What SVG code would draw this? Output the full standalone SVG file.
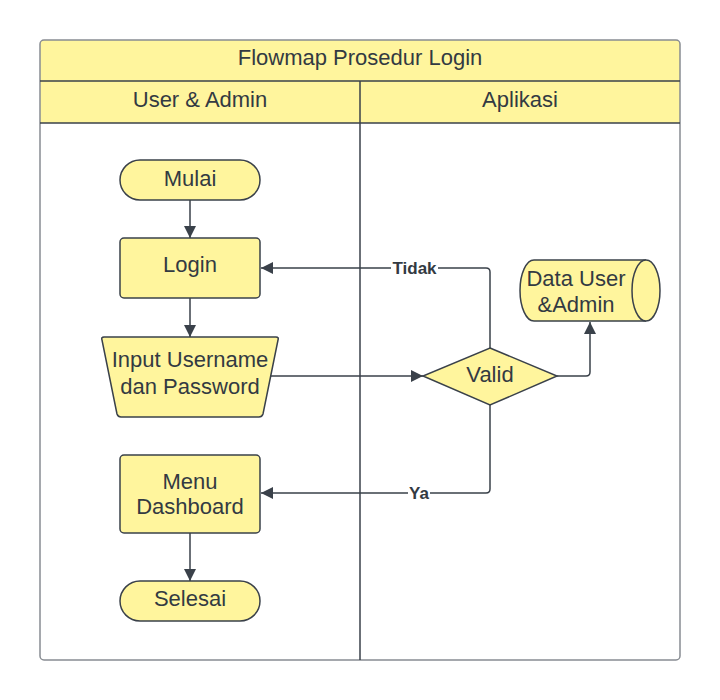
<svg xmlns="http://www.w3.org/2000/svg" width="720" height="700" viewBox="0 0 720 700">
<defs>
<marker id="arr" viewBox="0 0 12 12" refX="12" refY="6" markerWidth="12" markerHeight="12" markerUnits="userSpaceOnUse" orient="auto">
<path d="M0,0 L12,6 L0,12 Z" fill="#3a414a"/>
</marker>
</defs>
<style>
.shape{fill:#fff59d;stroke:#3a414a;stroke-width:1.5}
.t{font-family:"Liberation Sans",Arial,sans-serif;font-size:22px;fill:#333a42;text-anchor:middle}
.lbl{font-family:"Liberation Sans",Arial,sans-serif;font-size:17px;font-weight:bold;fill:#333a42;text-anchor:middle}
.c{fill:none;stroke:#3a414a;stroke-width:1.5}
</style>
<rect width="720" height="700" fill="#fff"/>
<g id="pool">
<path d="M40,81 V44 Q40,40 44,40 H676 Q680,40 680,44 V81 Z" fill="#fff59d"/>
<rect x="40" y="81" width="640" height="42" fill="#fff59d"/>
<rect x="40" y="40" width="640" height="620" rx="4" fill="none" stroke="#888c92" stroke-width="1.5"/>
<line x1="40" y1="81" x2="680" y2="81" stroke="#3a414a" stroke-width="1.5"/>
<line x1="40" y1="123" x2="680" y2="123" stroke="#3a414a" stroke-width="1.5"/>
<line x1="360" y1="81" x2="360" y2="660" stroke="#3a414a" stroke-width="1.5"/>
<text class="t" x="360" y="65">Flowmap Prosedur Login</text>
<text class="t" x="200" y="107">User &amp; Admin</text>
<text class="t" x="520" y="107">Aplikasi</text>
</g>
<g id="connectors">
<line class="c" x1="190" y1="200" x2="190" y2="238" marker-end="url(#arr)"/>
<line class="c" x1="190" y1="298" x2="190" y2="337" marker-end="url(#arr)"/>
<line class="c" x1="270" y1="376" x2="423" y2="376" marker-end="url(#arr)"/>
<path class="c" d="M490,348 V272 Q490,268 486,268 H261" marker-end="url(#arr)"/>
<path class="c" d="M490,405 V489 Q490,493 486,493 H261" marker-end="url(#arr)"/>
<path class="c" d="M557,376 H586 Q590,376 590,372 V322" marker-end="url(#arr)"/>
<line class="c" x1="190" y1="533" x2="190" y2="581" marker-end="url(#arr)"/>
<rect x="391" y="259" width="47" height="18" fill="#fff"/>
<text class="lbl" x="414.5" y="274">Tidak</text>
<rect x="408" y="484" width="22" height="18" fill="#fff"/>
<text class="lbl" x="419" y="499">Ya</text>
</g>
<g id="mulai">
<rect class="shape" x="120" y="160" width="140" height="40" rx="20"/>
<text class="t" x="190" y="186">Mulai</text>
</g>
<g id="login">
<rect class="shape" x="120" y="238" width="140" height="60" rx="4"/>
<text class="t" x="190" y="272">Login</text>
</g>
<g id="input">
<path class="shape" d="M104,337 H276 Q279,337 278,340 L263,414 Q262,417 259,417 H121 Q118,417 117,414 L102,340 Q101,337 104,337 Z"/>
<text class="t" x="190" y="367">Input Username</text>
<text class="t" x="190" y="394">dan Password</text>
</g>
<g id="menu">
<rect class="shape" x="120" y="455" width="140" height="78" rx="4"/>
<text class="t" x="190" y="489">Menu</text>
<text class="t" x="190" y="514">Dashboard</text>
</g>
<g id="selesai">
<rect class="shape" x="120" y="581" width="140" height="40" rx="20"/>
<text class="t" x="190" y="606">Selesai</text>
</g>
<g id="valid">
<path class="shape" d="M490,348 L557,376 L490,405 L423,376 Z"/>
<text class="t" x="490" y="382">Valid</text>
</g>
<g id="data">
<path class="shape" d="M646,260 H534 A14,30.5 0 0 0 534,321 H646 A14,30.5 0 0 0 646,260 Z"/>
<path class="shape" d="M646,260 A14,30.5 0 0 0 646,321" fill="none"/>
<text class="t" x="576" y="286">Data User</text>
<text class="t" x="576" y="312">&amp;Admin</text>
</g>
</svg>
